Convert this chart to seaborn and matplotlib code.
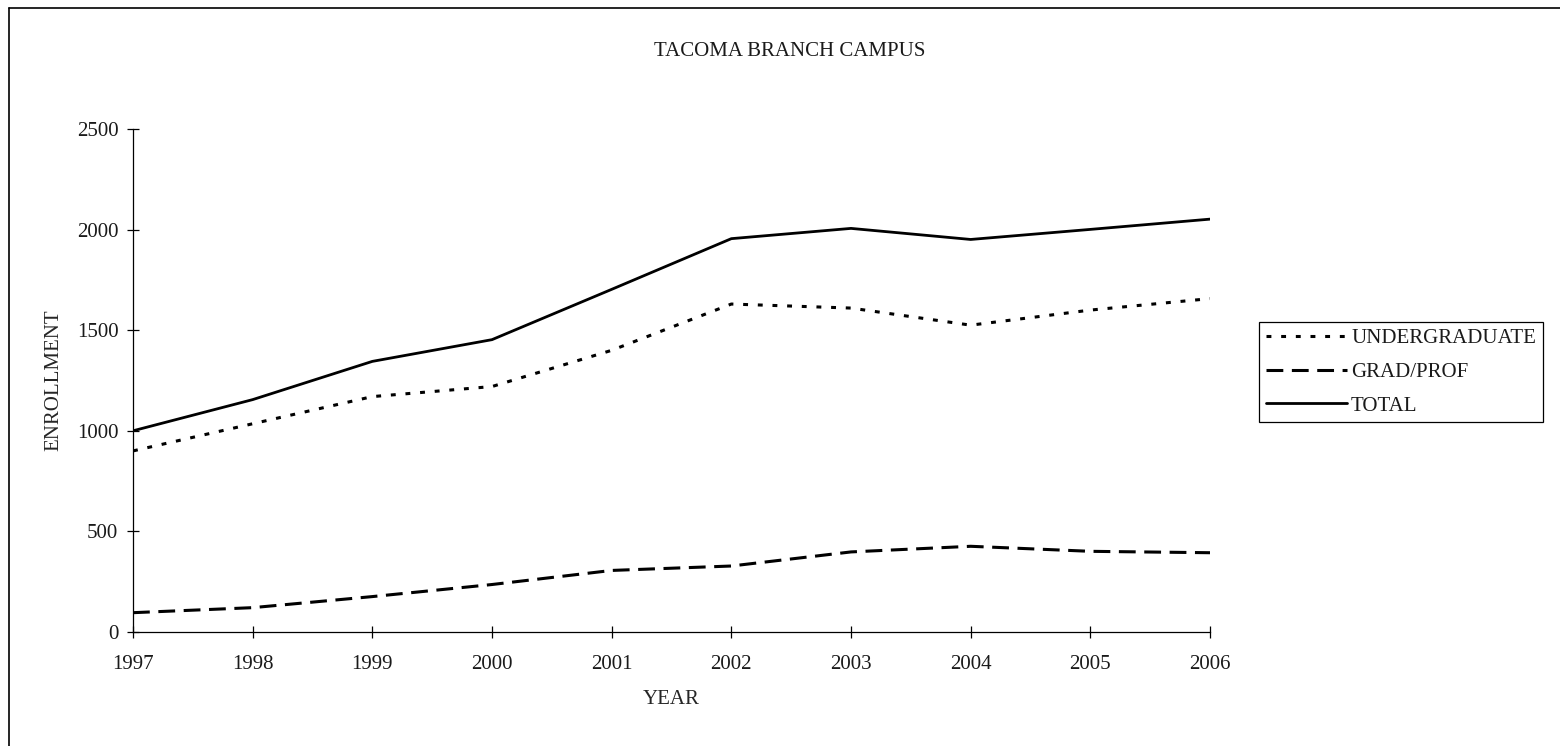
import matplotlib
matplotlib.use("Agg")
import matplotlib.pyplot as plt
from matplotlib.lines import Line2D
import pandas as pd
import seaborn as sns

# Data
years = [1997, 1998, 1999, 2000, 2001, 2002, 2003, 2004, 2005, 2006]
undergrad = [900, 1035, 1170, 1220, 1400, 1630, 1610, 1525, 1600, 1657]
grad_prof = [96, 121, 176, 236, 306, 328, 398, 426, 401, 394]
total = [1000, 1155, 1345, 1453, 1703, 1955, 2006, 1951, 2001, 2052]

df = pd.DataFrame({"year": years, "UNDERGRADUATE": undergrad,
                   "GRAD/PROF": grad_prof, "TOTAL": total})

sns.set_style("white")
plt.rcParams["font.family"] = ["Liberation Serif", "DejaVu Serif"]
plt.rcParams["text.color"] = "#1a1a1a"

FS = 15
W, H = 1560, 746
fig = plt.figure(figsize=(W / 100, H / 100), dpi=100)
ax = fig.add_axes([133 / W, 1 - 632 / H, (1210 - 133) / W, (632 - 129) / H])

# Drawing the three series
sns.lineplot(data=df, x="year", y="UNDERGRADUATE", ax=ax, color="black",
             linewidth=2.2, linestyle=(0, (1.6, 3.2)), label="UNDERGRADUATE")
sns.lineplot(data=df, x="year", y="GRAD/PROF", ax=ax, color="black",
             linewidth=2.2, linestyle=(0, (5.5, 2.8)), label="GRAD/PROF")
sns.lineplot(data=df, x="year", y="TOTAL", ax=ax, color="black",
             linewidth=2.0, linestyle="-", label="TOTAL")

ax.set_xlim(1997, 2006)
ax.set_ylim(0, 2500)
ax.set_xticks(years)
ax.set_xticklabels([str(y) for y in years])
ax.set_yticks([0, 500, 1000, 1500, 2000, 2500])

for side in ["top", "right"]:
    ax.spines[side].set_visible(False)
for side in ["left", "bottom"]:
    ax.spines[side].set_linewidth(0.9)
    ax.spines[side].set_color("black")

ax.tick_params(axis="both", direction="inout", length=9, width=0.9,
               bottom=True, left=True, colors="black",
               labelsize=FS, labelcolor="#1a1a1a")
ax.tick_params(axis="x", pad=12)
ax.tick_params(axis="y", pad=6)

ax.set_xlabel("YEAR", fontsize=FS, va="center")
ax.xaxis.set_label_coords(0.5, (632 - 700) / (632 - 129))
ax.set_ylabel("ENROLLMENT", fontsize=FS, va="center")
ax.yaxis.set_label_coords((54 - 133) / (1210 - 133), 0.5)

fig.text(790 / W, 1 - 51 / H, "TACOMA BRANCH CAMPUS", fontsize=FS,
         ha="center", va="center")

leg = ax.legend(loc="upper left", bbox_to_anchor=(1259 / W, 1 - 322 / H),
                bbox_transform=fig.transFigure, borderaxespad=0,
                fontsize=FS, handlelength=3.9, handletextpad=0.2,
                labelspacing=0.68, borderpad=0.32, fancybox=False,
                framealpha=1, edgecolor="black")
leg.get_frame().set_linewidth(0.9)

# Outer border (left and top edges visible in the reference)
fig.add_artist(Line2D([9 / W, 9 / W], [0, 1 - 8 / H], transform=fig.transFigure,
                      color="black", linewidth=1.2))
fig.add_artist(Line2D([9 / W, 1], [1 - 8 / H, 1 - 8 / H], transform=fig.transFigure,
                      color="black", linewidth=1.2))

fig.savefig("out.png", dpi=100)
